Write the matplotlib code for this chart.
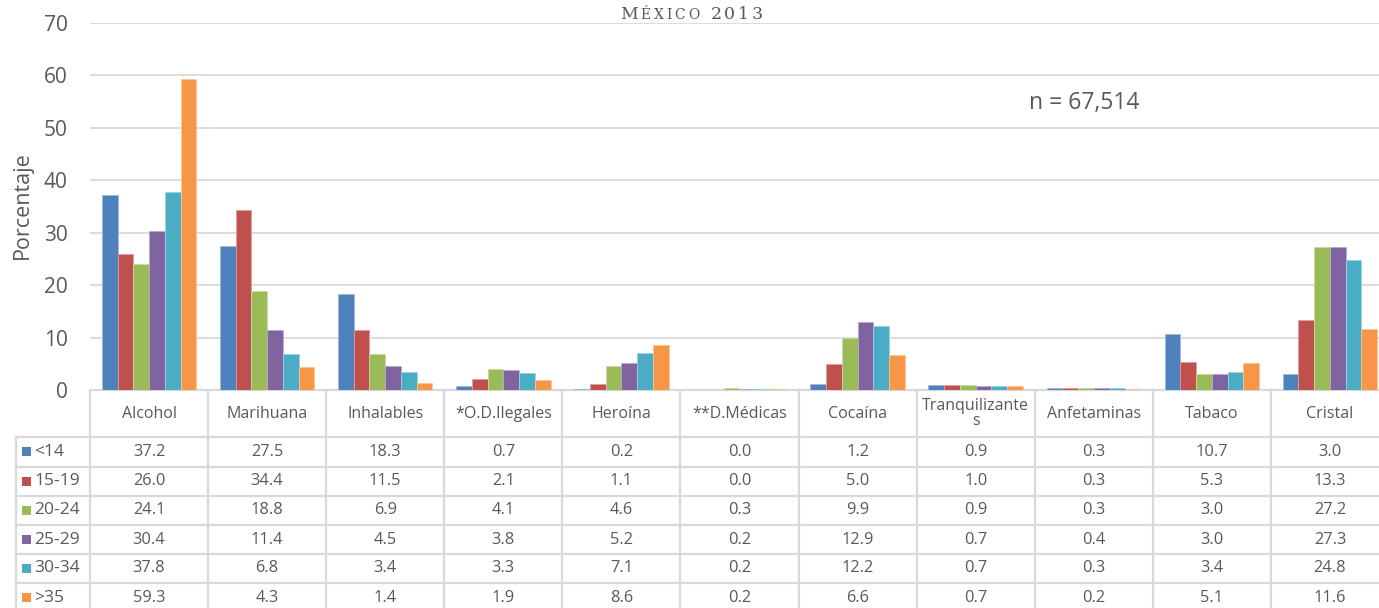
import numpy as np
import matplotlib
matplotlib.use("Agg")
import matplotlib.pyplot as plt
import matplotlib.transforms as mtransforms
from matplotlib.lines import Line2D
from matplotlib.patches import Rectangle
from matplotlib.colors import to_rgb

plt.rcParams['font.family'] = ['Open Sans', 'DejaVu Sans']

categorias = ['Alcohol', 'Marihuana', 'Inhalables', '*O.D.Ilegales', 'Heroína', '**D.Médicas',
              'Cocaína', 'Tranquilizante\ns', 'Anfetaminas', 'Tabaco', 'Cristal']
edades = ['<14', '15-19', '20-24', '25-29', '30-34', '>35']

menor14 = [37.2, 27.5, 18.3, 0.7, 0.2, 0.0, 1.2, 0.9, 0.3, 10.7, 3.0]
e15_19 = [26.0, 34.4, 11.5, 2.1, 1.1, 0.0, 5.0, 1.0, 0.3, 5.3, 13.3]
e20_24 = [24.1, 18.8, 6.9, 4.1, 4.6, 0.3, 9.9, 0.9, 0.3, 3.0, 27.2]
e25_29 = [30.4, 11.4, 4.5, 3.8, 5.2, 0.2, 12.9, 0.7, 0.4, 3.0, 27.3]
e30_34 = [37.8, 6.8, 3.4, 3.3, 7.1, 0.2, 12.2, 0.7, 0.3, 3.4, 24.8]
mayor35 = [59.3, 4.3, 1.4, 1.9, 8.6, 0.2, 6.6, 0.7, 0.2, 5.1, 11.6]
series = [menor14, e15_19, e20_24, e25_29, e30_34, mayor35]

colores = ['#4F81BD', '#C0504D', '#9BBB59', '#8064A2', '#4BACC6', '#F79646']
gris = '#595959'
linea = '#D9D9D9'

W, H = 1379, 608
fig = plt.figure(figsize=(W / 100, H / 100), dpi=100)

# eje en pixeles: x 90..1389 (recortado a la derecha), y 23..390
ax = fig.add_axes([90 / W, (H - 390) / H, 1299 / W, 367 / H])
n = len(categorias)
x = np.arange(n)
ancho = 0.8 / 6
for i, (vals, c) in enumerate(zip(series, colores)):
    borde = tuple(0.55 * np.array(to_rgb(c)) + 0.45)
    ax.bar(x - 0.4 + ancho * (i + 0.5), vals, width=ancho, color=c,
           edgecolor=borde, linewidth=0.6, zorder=3)

ax.set_xlim(-0.5, n - 0.5)
ax.set_ylim(0, 70)
ax.set_yticks(range(0, 71, 10))
ax.tick_params(axis='y', length=0, pad=16, labelsize=15, labelcolor=gris)
ax.set_xticks([])
ax.grid(axis='y', color=linea, linewidth=1.3, zorder=0)
for s in ['top', 'right', 'left']:
    ax.spines[s].set_visible(False)
ax.spines['bottom'].set_color(linea)
ax.spines['bottom'].set_linewidth(1.6)


def fy(p):
    return 1 - p / H


fig.text(22.5 / W, fy(205), 'Porcentaje', rotation=90, ha='center', va='center',
         fontsize=15.5, color=gris)
fig.text(1084 / W, fy(103), 'n = 67,514', ha='center', va='center',
         fontsize=16.5, color=gris)

# titulo en versalitas, con espaciado para llegar al ancho del original
titulo = [('M', 12.5), ('É', 10), ('X', 10), ('I', 10), ('C', 10), ('O', 10),
          (' ', 12.5), ('2', 12.5), ('0', 12.5), ('1', 12.5), ('3', 12.5)]
renderer = fig.canvas.get_renderer()
letras = []
for ch, sz in titulo:
    t = fig.text(0, fy(19), ch, fontsize=sz, color=gris, family='DejaVu Serif',
                 va='baseline', ha='left')
    letras.append(t)
anchos = []
for t, (ch, sz) in zip(letras, titulo):
    if ch == ' ':
        anchos.append(0.32 * sz * 100 / 72)
    else:
        anchos.append(t.get_window_extent(renderer).width)
extra = (143 - sum(anchos)) / (len(titulo) - 1)
xp = 620
for t, w in zip(letras, anchos):
    t.set_x(xp / W)
    xp += w + extra

# tabla de datos
tr = mtransforms.blended_transform_factory(ax.transData, fig.transFigure)
ftr = fig.transFigure
y_filas = [390, 437, 466.5, 495.5, 525, 554, 583, 612]

lk = dict(color=linea, linewidth=1.6, clip_on=False)
for yy in y_filas[1:]:
    fig.add_artist(Line2D([16 / W, 1.01], [fy(yy), fy(yy)], transform=ftr, **lk))
for k in range(n + 1):
    fig.add_artist(Line2D([k - 0.5, k - 0.5], [fy(390), fy(612)], transform=tr, **lk))
fig.add_artist(Line2D([16 / W, 16 / W], [fy(437), fy(612)], transform=ftr, **lk))

for k, cat in enumerate(categorias):
    fig.text(k, fy((390 + 437) / 2), cat, transform=tr, ha='center', va='center',
             fontsize=11.5, color=gris, linespacing=0.95)
    for r, vals in enumerate(series):
        yc = (y_filas[r + 1] + y_filas[r + 2]) / 2
        fig.text(k, fy(yc), f'{vals[k]:.1f}', transform=tr, ha='center', va='center',
                 fontsize=11.8, color=gris)

for r, (lab, c) in enumerate(zip(edades, colores)):
    yc = (y_filas[r + 1] + y_filas[r + 2]) / 2
    fig.add_artist(Rectangle((22 / W, fy(yc + 4.5)), 9 / W, 9 / H, transform=ftr,
                             facecolor=c, edgecolor='none'))
    fig.text(34 / W, fy(yc), lab, ha='left', va='center', fontsize=12.5, color=gris)

fig.savefig('out.png', dpi=100)
